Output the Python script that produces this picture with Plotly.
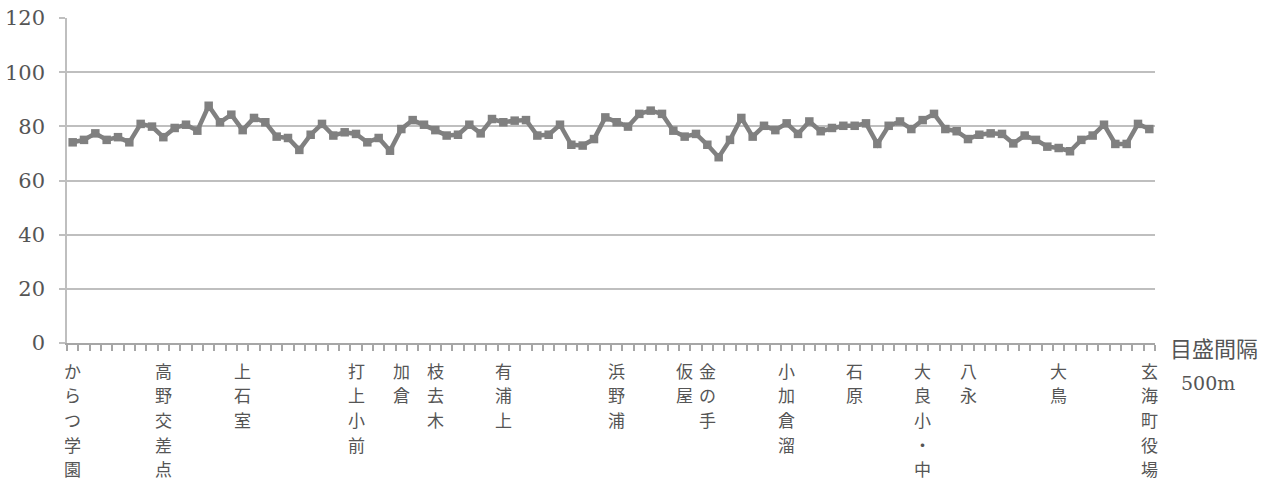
import plotly.graph_objects as go

# Measured values along the route (one point every 500 m)
values = [
    74.1, 75.0, 77.4, 75.0, 76.0, 74.1, 80.9, 79.9, 76.0, 79.4, 80.6, 78.4,
    87.6, 81.5, 84.3, 78.6, 83.1, 81.5, 76.2, 75.7, 71.3, 76.9, 80.9, 76.6,
    77.8, 77.2, 74.1, 75.7, 71.0, 79.0, 82.3, 80.6, 78.6, 76.6, 76.9, 80.6,
    77.4, 82.7, 81.5, 82.1, 82.3, 76.6, 76.9, 80.6, 73.2, 72.9, 75.3, 83.3,
    81.5, 79.9, 84.6, 85.8, 84.6, 78.4, 76.2, 77.2, 73.2, 68.6, 75.0, 83.1,
    76.2, 80.2, 78.6, 81.1, 77.2, 81.8, 78.2, 79.4, 80.2, 80.2, 81.1, 73.5,
    80.2, 81.8, 79.0, 82.3, 84.6, 79.0, 78.2, 75.3, 76.9, 77.4, 77.2, 73.7,
    76.6, 75.0, 72.5, 72.0, 70.8, 75.0, 76.6, 80.6, 73.5, 73.5, 80.9, 79.0,
]
positions = list(range(len(values)))

# Landmark labels and the point index where each sits
label_positions = [0, 8, 15, 25, 29, 32, 38, 48, 54, 56, 63, 69, 75, 79, 87, 95]
label_names = ["からつ学園", "高野交差点", "上石室", "打上小前", "加倉", "枝去木",
               "有浦上", "浜野浦", "仮屋", "金の手", "小加倉溜", "石原",
               "大良小・中", "八永", "大鳥", "玄海町役場"]

y_ticks = [0, 20, 40, 60, 80, 100, 120]
axis_note = "目盛間隔"
interval_note = "500m"

line_color = "#808080"
grid_color = "#bfbfbf"
text_color = "#555555"
jp_font = "Noto Sans CJK JP"
num_font = "DejaVu Serif"

fig = go.Figure()
fig.add_trace(go.Scatter(
    x=positions, y=values, mode="lines+markers",
    line=dict(color=line_color, width=4.5),
    marker=dict(symbol="square", size=8.5, color=line_color),
    showlegend=False, hoverinfo="x+y",
))

# Vertical (top-to-bottom) landmark labels, one character per line
annotations = []
char_size = 17
char_step = 24.7
first_offset = 27
for pos, name in zip(label_positions, label_names):
    for k, ch in enumerate(name):
        annotations.append(dict(
            x=pos, y=0, xref="x", yref="y", xanchor="center", yanchor="middle",
            yshift=-(first_offset + k * char_step), text=ch, showarrow=False,
            font=dict(family=jp_font, size=char_size, color=text_color),
        ))

annotations += [
    dict(xref="paper", yref="y", x=1.0, y=0, xanchor="left", yanchor="middle",
         xshift=13, yshift=-4, text=axis_note, showarrow=False,
         font=dict(family=jp_font, size=22, color=text_color)),
    dict(xref="paper", yref="y", x=1.0, y=0, xanchor="left", yanchor="middle",
         xshift=24, yshift=-40, text=interval_note, showarrow=False,
         font=dict(family=num_font, size=19, color=text_color)),
]

fig.update_layout(
    width=1279, height=482,
    margin=dict(l=67, r=124, t=18, b=139),
    paper_bgcolor="white", plot_bgcolor="white",
    xaxis=dict(
        range=[-0.5, len(values) - 0.5], automargin=False,
        tickmode="array", tickvals=label_positions,
        showticklabels=False, ticks="", showgrid=False, zeroline=False,
        showline=True, linecolor="#a6a6a6", linewidth=2,
        minor=dict(
            tickmode="array",
            tickvals=[p - 0.5 for p in positions] + [len(values) - 0.5],
            ticks="outside", ticklen=6, tickwidth=1.5, tickcolor="#a6a6a6",
            showgrid=False,
        ),
    ),
    yaxis=dict(
        range=[0, 120], tickmode="array", tickvals=y_ticks, automargin=False,
        showgrid=True, gridcolor=grid_color, gridwidth=1.5,
        zeroline=False, showline=True, linecolor=grid_color, linewidth=1.5,
        ticks="outside", ticklen=6, tickcolor=grid_color, tickwidth=1.5,
        tickfont=dict(family=num_font, size=21, color=text_color),
        ticklabelstandoff=10,
    ),
    annotations=annotations,
)

fig.write_html("out.html")
